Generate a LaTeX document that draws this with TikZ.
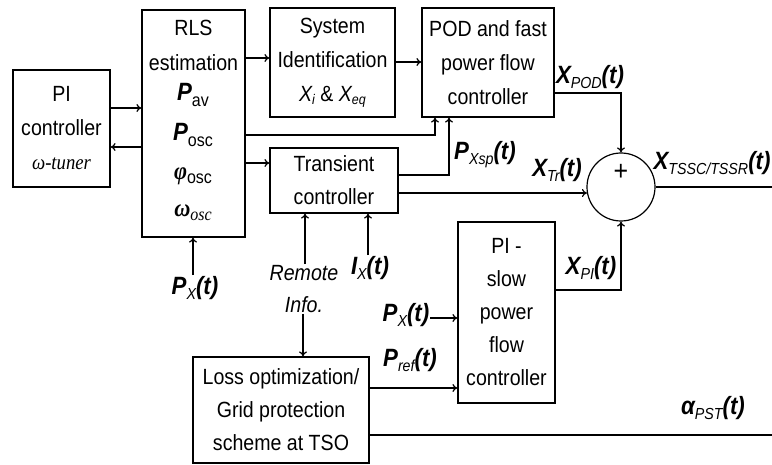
\documentclass[tikz,border=0pt]{standalone}
\usepackage{fontspec}
\setmainfont{Liberation Sans}[FakeStretch=0.89]
\newfontfamily\tnr{Liberation Serif}[FakeStretch=0.89]
\usetikzlibrary{arrows.meta}
\newcommand\bigf{\fontsize{25}{27}\selectfont\bfseries\itshape}
\newcommand\subf{\fontsize{16}{17}\selectfont\mdseries\itshape}
\newcommand\sig[3]{{\bigf #1}\raisebox{-5pt}{\subf #2}{\bigf #3}}
\newcommand\rlsP[1]{{\bigf P}\raisebox{-6pt}{\fontsize{18}{18}\selectfont #1}}
\begin{document}
\begin{tikzpicture}[x=1pt,y=-1pt,
  box/.style={draw,line width=1.2pt,inner sep=0pt,align=center,font=\fontsize{22}{34}\selectfont},
  boxs/.style={box,font=\fontsize{22}{33}\selectfont},
  con/.style={line width=1.2pt},
  arr/.style={con,-{To[length=5pt,width=8pt]}},
  lbl/.style={inner sep=1pt},
  btxt/.style={inner sep=0pt,font=\fontsize{22}{22}\selectfont}]
\useasboundingbox (0,0) rectangle (772,465);

% blocks
\node[box,minimum width=97pt,minimum height=117pt] (pi) at (61.5,128.5)
  {PI\\controller\\{\tnr\itshape\fontsize{21}{21}\selectfont ω-tuner}};
\node[box,minimum width=103pt,minimum height=227pt] (rls) at (193.5,123.5) {};
\node[box,minimum width=125pt,minimum height=109pt] (sysid) at (332.5,62.5)
  {System\\Identification\\{\itshape X\raisebox{-3pt}{\fontsize{14}{14}\selectfont i}} \& {\itshape X\raisebox{-3pt}{\fontsize{14}{14}\selectfont eq}}};
\node[box,minimum width=132pt,minimum height=109pt] (pod) at (488,62.5)
  {POD and fast\\power flow\\controller};
\node[boxs,minimum width=128pt,minimum height=65pt] (trans) at (334,180.5)
  {Transient\\controller};
\node[boxs,minimum width=97pt,minimum height=181pt] (pis) at (506.5,312.5)
  {PI -\\slow\\power\\flow\\controller};
\node[boxs,minimum width=176pt,minimum height=106pt] (loss) at (281,410)
  {Loss optimization/\\Grid protection\\scheme at TSO};
\node[draw,circle,line width=1.2pt,minimum size=68pt,inner sep=0pt] (sum) at (621,187) {};
\node[inner sep=0pt,font=\fontsize{28}{28}\selectfont] (plus) at (621,172) {+};

% RLS contents
\node[btxt] (rlst) at (193.5,28) {RLS};
\node[btxt] (estt) at (193.5,63) {estimation};
\node[inner sep=0pt] (pav) at (193,95) {\rlsP{av}};
\node[inner sep=0pt] (posc) at (193,135) {\rlsP{osc}};
\node[inner sep=0pt] (phio) at (193,176) {{\tnr\bfseries\itshape\fontsize{25}{25}\selectfont φ}\raisebox{-4pt}{\fontsize{18}{18}\selectfont osc}};
\node[inner sep=0pt] (omo) at (193,213) {{\tnr\bfseries\itshape\fontsize{25}{25}\selectfont ω}\raisebox{-4pt}{\tnr\itshape\fontsize{18}{18}\selectfont osc}};

% signal labels
\node[lbl] (xpod) at (590,77) {\sig{X}{POD}{(t)}};
\node[lbl] (xtr) at (557,170) {\sig{X}{Tr}{(t)}};
\node[lbl] (xout) at (712,163) {\sig{X}{TSSC/TSSR}{(t)}};
\node[lbl] (pxsp) at (485,155) {\sig{P}{Xsp}{(t)}};
\node[lbl] (ix) at (370,268) {\sig{I}{X}{(t)}};
\node[lbl,align=center,font=\fontsize{22}{32}\selectfont\itshape] (remote) at (304,289) {Remote\\Info.};
\node[lbl] (px1) at (195,288) {\sig{P}{X}{(t)}};
\node[lbl] (px2) at (406,315) {\sig{P}{X}{(t)}};
\node[lbl] (pref) at (410,360) {\sig{P}{ref}{(t)}};
\node[lbl] (xpi) at (591,268) {\sig{X}{PI}{(t)}};
\node[lbl] (apst) at (713,408) {\sig{α}{PST}{(t)}};

\coordinate (outR) at (772,187);
\coordinate (outA) at (772,435);

% connectors
\draw[arr] (pi.east |- 0,108) -- (rls.west |- 0,108);
\draw[arr] (rls.west |- 0,147) -- (pi.east |- 0,147);
\draw[arr] (rls.east |- 0,58) -- (sysid.west |- 0,58);
\draw[arr] (sysid.east |- 0,62) -- (pod.west |- 0,62);
\draw[arr] (rls.east |- 0,135) -| (pod.south -| 435,0);
\draw[arr] (rls.east |- 0,163) -- (trans.west |- 0,163);
\draw[arr] (trans.east |- 0,175) -| (pod.south -| 449,0);
\draw[arr] (trans.east |- sum.190) -- (sum.190);
\draw[arr] (pod.east |- 0,93) -| (sum.north);
\draw[arr] (pis.east |- 0,290) -| (sum.south);
\draw[con] (sum.east) -- (outR);
\draw[arr] (px1.north -| 193,0) -- (rls.south -| 193,0);
\draw[arr] (remote.north -| 305,0) -- (trans.south -| 305,0);
\draw[arr] (remote.south -| 303,0) -- (loss.north -| 303,0);
\draw[arr] (ix.north -| 368,0) -- (trans.south -| 368,0);
\draw[arr] (px2.east |- 0,318) -- (pis.west |- 0,318);
\draw[arr] (loss.east |- 0,388) -- (pis.west |- 0,388);
\draw[con] (loss.east |- 0,435) -- (outA);
\end{tikzpicture}
\end{document}
